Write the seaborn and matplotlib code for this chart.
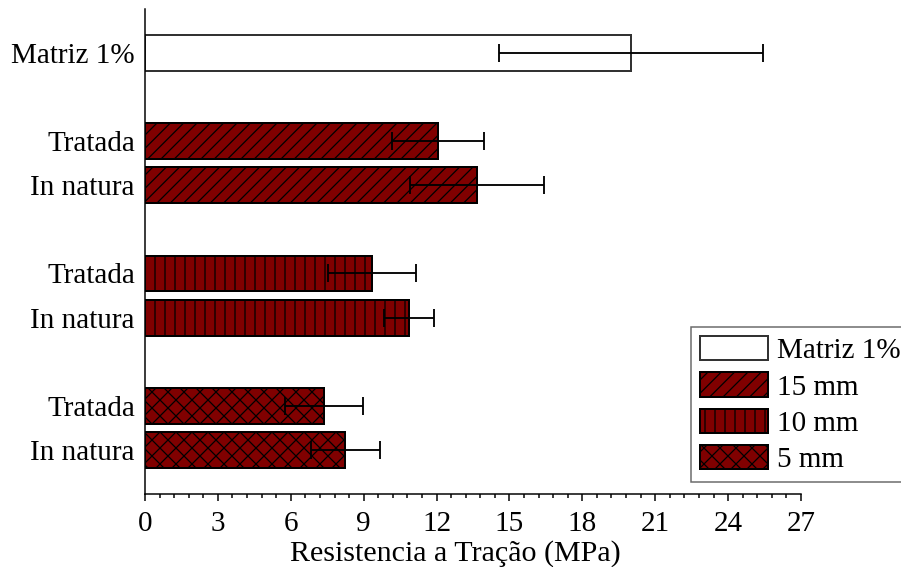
import matplotlib
matplotlib.use("Agg")
import matplotlib.pyplot as plt
from matplotlib.patches import Patch
from matplotlib.ticker import MultipleLocator, FixedLocator
import seaborn as sns
import pandas as pd

# ---- data ----
keys = ["Matriz 1%", "T15", "N15", "T10", "N10", "T5", "N5"]
tick_labels = ["Matriz 1%", "Tratada", "In natura", "Tratada", "In natura", "Tratada", "In natura"]
series = ["Matriz 1%", "15 mm", "15 mm", "10 mm", "10 mm", "5 mm", "5 mm"]
values = [20.0, 12.05, 13.66, 9.35, 10.87, 7.37, 8.24]
errors = [5.45, 1.90, 2.75, 1.80, 1.02, 1.62, 1.42]
series_order = ["Matriz 1%", "15 mm", "10 mm", "5 mm"]
order = ["Matriz 1%", "gap1", "T15", "N15", "gap2", "T10", "N10", "gap3", "T5", "N5"]
x_ticks = [0, 3, 6, 9, 12, 15, 18, 21, 24, 27]

# ---- styling ----
DPI = 240


def px(v):
    """pixels -> points at the figure dpi"""
    return v * 72.0 / DPI


RED = "#800000"
colors = {"Matriz 1%": "white", "15 mm": RED, "10 mm": RED, "5 mm": RED}
hatches = {"Matriz 1%": "", "15 mm": "//////", "10 mm": "||||", "5 mm": "xxxxx"}
edges = {"Matriz 1%": "#333333", "15 mm": "black", "10 mm": "black", "5 mm": "black"}

sns.set_style("ticks")
plt.rcParams["font.family"] = ["Liberation Serif", "DejaVu Serif"]
plt.rcParams["hatch.linewidth"] = px(1.25)
plt.rcParams["hatch.color"] = "black"
plt.rcParams["text.color"] = "black"
plt.rcParams["axes.labelcolor"] = "black"
plt.rcParams["xtick.color"] = "black"
plt.rcParams["ytick.color"] = "black"

FS = px(29.2)

df = pd.DataFrame({"key": keys, "value": values, "series": series})

fig = plt.figure(figsize=(901 / DPI, 567 / DPI), dpi=DPI)
ax = fig.add_axes([145 / 901, 1 - 494 / 567, 656 / 901, (494 - 8.9) / 567])

sns.barplot(data=df, x="value", y="key", hue="series", order=order,
            hue_order=series_order, palette=colors, dodge=False, orient="h",
            width=0.816, errorbar=None, legend=False, ax=ax, saturation=1)

key_series = dict(zip(keys, series))
for p in ax.patches:
    yc = p.get_y() + p.get_height() / 2
    idx = int(round(yc))
    if idx < 0 or idx >= len(order) or order[idx] not in key_series:
        continue
    s = key_series[order[idx]]
    p.set_hatch(hatches[s])
    p.set_edgecolor(edges[s])
    p.set_linewidth(px(2.0))
    p.set_facecolor(colors[s])

ypos = [order.index(k) for k in keys]
ax.errorbar(values, ypos, xerr=errors, fmt="none", ecolor="black",
            elinewidth=px(1.85), capsize=px(9.3), capthick=px(1.85), zorder=5)

ax.set_xlim(0, 27)
ax.set_ylim(10, -1)
ax.set_xticks(x_ticks)
ax.set_xticklabels([str(t) for t in x_ticks])
ax.xaxis.set_minor_locator(MultipleLocator(0.6))
ax.set_yticks(ypos)
ax.set_yticklabels(tick_labels)
ax.yaxis.set_minor_locator(FixedLocator([2, 6]))

ax.tick_params(axis="x", which="major", direction="out", length=px(7), width=px(1.5),
               labelsize=FS, pad=px(10), colors="black")
ax.tick_params(axis="x", which="minor", direction="out", length=px(3.7), width=px(1.5))
ax.tick_params(axis="y", which="major", length=0, labelsize=FS, pad=px(10), colors="black")
ax.tick_params(axis="y", which="minor", direction="out", length=px(4.3), width=px(1.5))

for side in ["top", "right"]:
    ax.spines[side].set_visible(False)
for side in ["left", "bottom"]:
    ax.spines[side].set_linewidth(px(1.5))
    ax.spines[side].set_color("black")

ax.set_ylabel("")
ax.set_xlabel("Resistencia a Tração (MPa)", fontsize=px(30), labelpad=0, color="black")
ax.xaxis.set_label_coords(0.473, -0.095)

handles = [Patch(facecolor=colors[s], edgecolor=edges[s], hatch=hatches[s],
                 linewidth=px(2.0), label=s) for s in series_order]
leg = fig.legend(handles=handles, loc="lower left",
                 bbox_to_anchor=(691 / 901, 1 - 482 / 567), bbox_transform=fig.transFigure,
                 borderaxespad=0, frameon=True, fancybox=False, fontsize=FS,
                 handlelength=2.33, handleheight=0.9, handletextpad=0.32,
                 labelspacing=0.28, borderpad=0.3)
leg.get_frame().set_edgecolor("#444444")
leg.get_frame().set_linewidth(px(1.5))

fig.savefig("out.png", dpi=DPI)
